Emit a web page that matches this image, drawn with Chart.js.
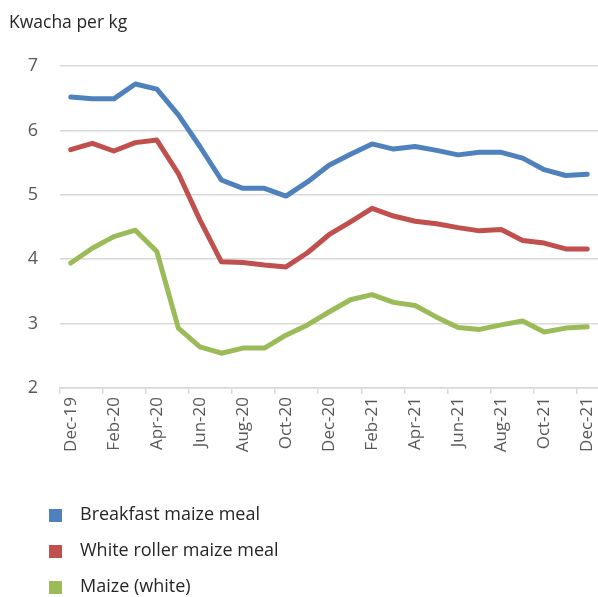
<!DOCTYPE html>
<html lang="en">
<head>
  <meta charset="UTF-8">
  <title>Maize prices</title>
  <script src="https://cdn.jsdelivr.net/npm/chart.js"></script>
  <style>
    html, body {
      margin: 0;
      padding: 0;
      background: #FFFFFF;
    }
    #wrap {
      position: relative;
      width: 598px;
      height: 597px;
    }
  </style>
</head>
<body>
  <div id="wrap"><canvas id="priceChart"></canvas></div>

  <script>
    const months = ['Dec-19', 'Jan-20', 'Feb-20', 'Mar-20', 'Apr-20', 'May-20', 'Jun-20', 'Jul-20', 'Aug-20',
      'Sep-20', 'Oct-20', 'Nov-20', 'Dec-20', 'Jan-21', 'Feb-21', 'Mar-21', 'Apr-21', 'May-21', 'Jun-21',
      'Jul-21', 'Aug-21', 'Sep-21', 'Oct-21', 'Nov-21', 'Dec-21'];

    const breakfastMeal = [6.52, 6.49, 6.49, 6.72, 6.64, 6.24, 5.75, 5.23, 5.10, 5.10, 4.98, 5.20, 5.46,
      5.63, 5.79, 5.71, 5.75, 5.69, 5.62, 5.66, 5.66, 5.57, 5.39, 5.30, 5.32];
    const rollerMeal = [5.70, 5.80, 5.68, 5.81, 5.85, 5.33, 4.61, 3.96, 3.95, 3.91, 3.88, 4.10, 4.38,
      4.58, 4.79, 4.67, 4.59, 4.55, 4.49, 4.44, 4.46, 4.29, 4.25, 4.16, 4.16];
    const maizeWhite = [3.94, 4.17, 4.35, 4.45, 4.12, 2.93, 2.64, 2.54, 2.62, 2.62, 2.82, 2.98, 3.18,
      3.37, 3.45, 3.33, 3.28, 3.10, 2.94, 2.91, 2.98, 3.04, 2.87, 2.93, 2.95];

    const yTicks = [2, 3, 4, 5, 6, 7];
    const seriesNames = ['Breakfast maize meal', 'White roller maize meal', 'Maize (white)'];
    const unitLabel = 'Kwacha per kg';

    const colors = ['#4F81BD', '#C0504D', '#9BBB59'];
    const font = "'Open Sans', sans-serif";

    // title + vertical legend under the axis, drawn straight onto the canvas
    const extras = {
      id: 'extras',
      afterDraw(chart) {
        const c = chart.ctx;
        c.save();
        c.fillStyle = '#262626';
        c.font = '17.5px ' + font;
        c.textBaseline = 'middle';
        c.textAlign = 'left';
        c.fillText(unitLabel, 9, 23);

        chart.data.datasets.forEach((ds, i) => {
          const y = 515 + i * 36;
          c.fillStyle = ds.borderColor;
          c.fillRect(49, y - 6, 13, 13);
          c.fillStyle = '#262626';
          c.font = '18px ' + font;
          c.fillText(ds.label, 80, y);
        });
        c.restore();
      }
    };

    const lineSet = (label, data, color) => ({
      label: label,
      data: data,
      borderColor: color,
      backgroundColor: color,
      borderWidth: 5,
      pointRadius: 0,
      tension: 0,
      borderJoinStyle: 'round',
      borderCapStyle: 'round'
    });

    new Chart(document.getElementById('priceChart'), {
      type: 'line',
      data: {
        labels: months,
        datasets: [
          lineSet(seriesNames[0], breakfastMeal, colors[0]),
          lineSet(seriesNames[1], rollerMeal, colors[1]),
          lineSet(seriesNames[2], maizeWhite, colors[2])
        ]
      },
      options: {
        responsive: true,
        maintainAspectRatio: false,
        animation: false,
        layout: { padding: { top: 66, right: 0, left: 0, bottom: 0 } },
        plugins: {
          legend: { display: false },
          tooltip: { enabled: false }
        },
        scales: {
          x: {
            offset: true,
            afterFit: (scale) => {
              scale.height = 209;
              scale.paddingLeft = 0;
              scale.paddingRight = 0;
            },
            border: { display: true, color: '#D9D9D9', width: 1.5 },
            grid: {
              offset: true,
              drawOnChartArea: false,
              tickLength: 6,
              lineWidth: 1.5,
              color: (ctx) => ctx.index % 2 === 0 ? '#D9D9D9' : 'rgba(0,0,0,0)'
            },
            ticks: {
              autoSkip: false,
              minRotation: 90,
              maxRotation: 90,
              padding: 3,
              color: '#595959',
              font: { family: font, size: 17 },
              callback: function (val, i) { return i % 2 === 0 ? this.getLabelForValue(val) : ''; }
            }
          },
          y: {
            min: yTicks[0],
            max: yTicks[yTicks.length - 1],
            afterFit: (scale) => { scale.width = 60; },
            afterBuildTicks: (scale) => { scale.ticks = yTicks.map(v => ({ value: v })); },
            border: { display: false },
            grid: { color: '#D9D9D9', lineWidth: 1.5, drawTicks: false },
            ticks: {
              padding: 22,
              color: '#595959',
              font: { family: font, size: 18 }
            }
          }
        }
      },
      plugins: [extras]
    });
  </script>
</body>
</html>
